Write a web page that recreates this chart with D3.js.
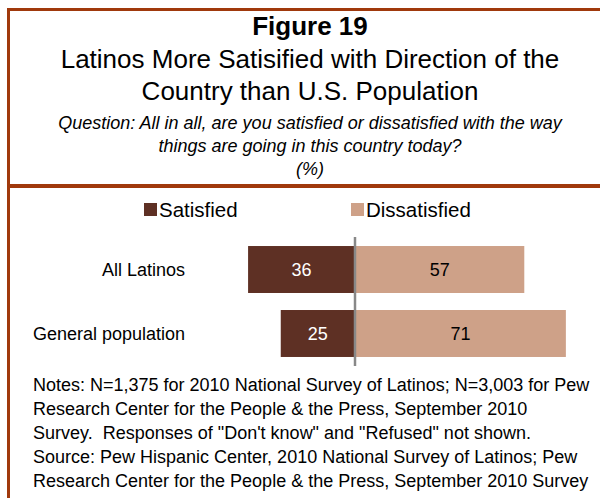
<!DOCTYPE html>
<html>
<head>
<meta charset="utf-8">
<script src="https://cdn.jsdelivr.net/npm/d3@7"></script>
<style>
  body { margin: 0; background: #fff; }
  svg { display: block; font-family: Arial, "Liberation Sans", sans-serif; }
  .note { white-space: pre; }
</style>
</head>
<body>
<div id="chart"></div>
<script>
// data
const groups = ["All Latinos", "General population"];
const satisfied = [36, 25];
const dissatisfied = [57, 71];
const seriesNames = ["Satisfied", "Dissatisfied"];

const titleLines = ["Latinos More Satisified with Direction of the", "Country than U.S. Population"];
const questionLines = ["Question: All in all, are you satisfied or dissatisfied with the way",
    "things are going in this country today?", "(%)"];
const noteLines = [
    "Notes: N=1,375 for 2010 National Survey of Latinos; N=3,003 for Pew",
    "Research Center for the People & the Press, September 2010",
    "Survey.  Responses of \"Don't know\" and \"Refused\" not shown.",
    "Source: Pew Hispanic Center, 2010 National Survey of Latinos; Pew",
    "Research Center for the People & the Press, September 2010 Survey"
];

const width = 600, height = 498;
const frameColor = "#a0390c";
const colors = {Satisfied: "#5e3024", Dissatisfied: "#cea188"};

const svg = d3.select("#chart").append("svg")
    .attr("width", width)
    .attr("height", height);

// frame lines
svg.append("rect").attr("x", 7).attr("y", 8).attr("width", width - 7).attr("height", 3).attr("fill", frameColor);
svg.append("rect").attr("x", 7).attr("y", 8).attr("width", 3).attr("height", height - 8).attr("fill", frameColor);
svg.append("rect").attr("x", 7).attr("y", 184).attr("width", width - 7).attr("height", 4).attr("fill", frameColor);

const cx = 310;

svg.append("text")
    .attr("x", cx).attr("y", 35)
    .attr("text-anchor", "middle")
    .style("font-size", "26px")
    .style("font-weight", "bold")
    .text("Figure 19");

svg.selectAll(".title").data(titleLines).join("text")
    .attr("class", "title")
    .attr("x", cx)
    .attr("y", (d, i) => 68 + i * 32)
    .attr("text-anchor", "middle")
    .style("font-size", "26px")
    .text(d => d);

svg.selectAll(".question").data(questionLines).join("text")
    .attr("class", "question")
    .attr("x", cx)
    .attr("y", (d, i) => 129 + i * 23)
    .attr("text-anchor", "middle")
    .style("font-size", "18px")
    .style("font-style", "italic")
    .text(d => d);

// legend
const legend = svg.selectAll(".legend").data(seriesNames).join("g")
    .attr("class", "legend")
    .attr("transform", (d, i) => `translate(${i === 0 ? 144 : 351}, 203)`);
legend.append("rect")
    .attr("width", 13).attr("height", 13)
    .attr("fill", d => colors[d]);
legend.append("text")
    .attr("x", 15).attr("y", 14)
    .style("font-size", "20.5px")
    .text(d => d);

// scales
const x = d3.scaleLinear().domain([-100, 100]).range([355 - 297, 355 + 297]);
const y = d3.scaleBand().domain(groups).range([237, 366]).paddingInner(0.266).paddingOuter(0.141);

const rows = groups.map((g, i) => ({group: g, sat: satisfied[i], dis: dissatisfied[i]}));

const row = svg.selectAll(".row").data(rows).join("g").attr("class", "row");

row.append("rect")
    .attr("x", d => x(-d.sat))
    .attr("y", d => y(d.group))
    .attr("width", d => x(0) - x(-d.sat))
    .attr("height", y.bandwidth())
    .attr("fill", colors.Satisfied);

row.append("rect")
    .attr("x", x(0))
    .attr("y", d => y(d.group))
    .attr("width", d => x(d.dis) - x(0))
    .attr("height", y.bandwidth())
    .attr("fill", colors.Dissatisfied);

row.append("text")
    .attr("x", d => (x(-d.sat) + x(0)) / 2)
    .attr("y", d => y(d.group) + y.bandwidth() / 2)
    .attr("dy", "0.35em")
    .attr("text-anchor", "middle")
    .style("font-size", "18px")
    .style("fill", "#fff")
    .text(d => d.sat);

row.append("text")
    .attr("x", d => (x(d.dis) + x(0)) / 2)
    .attr("y", d => y(d.group) + y.bandwidth() / 2)
    .attr("dy", "0.35em")
    .attr("text-anchor", "middle")
    .style("font-size", "18px")
    .style("fill", "#000")
    .text(d => d.dis);

row.append("text")
    .attr("x", 185)
    .attr("y", d => y(d.group) + y.bandwidth() / 2)
    .attr("dy", "0.35em")
    .attr("text-anchor", "end")
    .style("font-size", "18px")
    .text(d => d.group);

// zero line
svg.append("line")
    .attr("x1", x(0)).attr("x2", x(0))
    .attr("y1", 237).attr("y2", 366)
    .attr("stroke", "#888")
    .attr("stroke-width", 2.5);

svg.selectAll(".note").data(noteLines).join("text")
    .attr("class", "note")
    .attr("x", 33)
    .attr("y", (d, i) => 391 + i * 24)
    .style("font-size", "18px")
    .text(d => d);
</script>
</body>
</html>
